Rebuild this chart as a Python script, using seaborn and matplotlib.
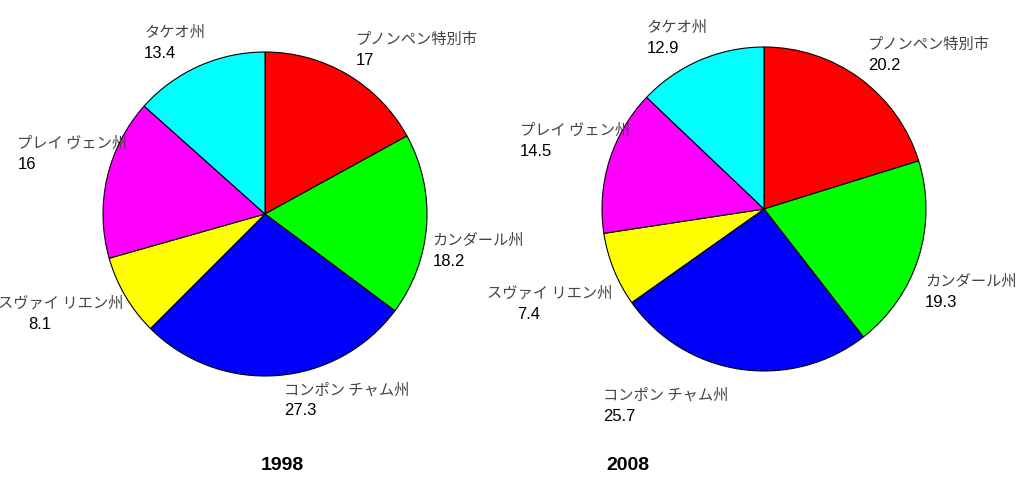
import matplotlib
matplotlib.use("Agg")
import numpy as np
import matplotlib.pyplot as plt
import seaborn as sns
import pandas as pd

# --- Data ---
regions = ["プノンペン特別市", "カンダール州", "コンポン チャム州",
           "スヴァイ リエン州", "プレイ ヴェン州", "タケオ州"]
share_1998 = [17, 18.2, 27.3, 8.1, 16, 13.4]
share_2008 = [20.2, 19.3, 25.7, 7.4, 14.5, 12.9]
years = ["1998", "2008"]

df = pd.DataFrame({"region": regions, "1998": share_1998, "2008": share_2008})

# --- Style ---
sns.set_theme(style="white")
plt.rcParams["font.family"] = ["Liberation Sans", "Noto Sans CJK JP", "DejaVu Sans"]

colors = ["#FF0000", "#00FF00", "#0000FF", "#FFFF00", "#FF00FF", "#00FFFF"]

# label placement tweaks (pixels, relative to the point at 1.1 x radius):
# left edge of the label block and vertical centre of the name line (+ is down)
label_dx = {"1998": [0, -10, 6, -113, -74, -48],
            "2008": [-2, -9, -135, -112, -74, -47]}
label_dy = {"1998": [-21, 14, -2, -1, -31, -19],
            "2008": [-21, 19, 10, 18, -25, -18]}
value_indent = [0, 0, 0, 30, 0, 0]
line_gap = 21

W, H = 1019, 491
fig = plt.figure(figsize=(W / 100, H / 100), dpi=100)
px2pt = 72 / fig.dpi

# pie centres / radius in pixels (from top-left)
centres = [(265, 214), (764, 209)]
radius_px = 162
lim = 1.3
half = lim * radius_px
title_pos = [(282, 465), (628, 465)]

for (cx, cy), year, (tx, ty) in zip(centres, years, title_pos):
    ax = fig.add_axes([(cx - half) / W, 1 - (cy + half) / H, 2 * half / W, 2 * half / H])
    wedges, _ = ax.pie(
        df[year], colors=colors, startangle=90, counterclock=False,
        wedgeprops=dict(edgecolor="black", linewidth=0.8),
    )
    for i, (w, name, val) in enumerate(zip(wedges, df["region"], df[year])):
        mid = np.deg2rad((w.theta1 + w.theta2) / 2)
        x, y = 1.1 * np.cos(mid), 1.1 * np.sin(mid)
        dx, dy = label_dx[year][i], label_dy[year][i]
        ax.annotate(name, xy=(x, y), xytext=(dx * px2pt, -dy * px2pt),
                    textcoords="offset points", ha="left", va="center",
                    fontsize=11, color="#444444",
                    family=["Noto Sans CJK JP", "DejaVu Sans"])
        ax.annotate(f"{val:g}", xy=(x, y),
                    xytext=((dx + value_indent[i]) * px2pt, -(dy + line_gap) * px2pt),
                    textcoords="offset points", ha="left", va="center",
                    fontsize=12, color="black")
    ax.set_xlim(-lim, lim)
    ax.set_ylim(-lim, lim)
    ax.set_aspect("equal")
    ax.axis("off")
    fig.text(tx / W, 1 - ty / H, year, ha="center", va="center",
             fontsize=14, fontweight="bold", color="black")

fig.savefig("out.png", dpi=100, facecolor="white")
